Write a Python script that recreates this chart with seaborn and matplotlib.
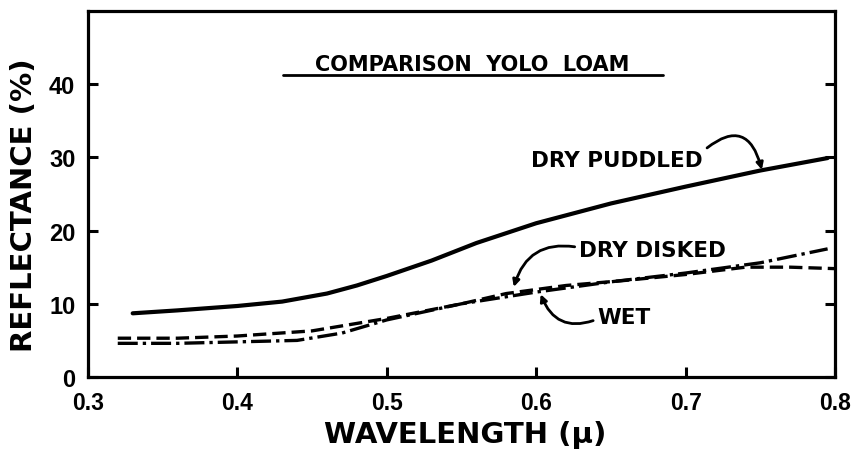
import matplotlib
matplotlib.use("Agg")
import matplotlib.pyplot as plt
import seaborn as sns
import pandas as pd

# ---- data ----
wl_puddled = [0.33, 0.36, 0.40, 0.43, 0.46, 0.48, 0.50, 0.53, 0.56, 0.60, 0.65, 0.70, 0.75, 0.795]
r_puddled = [8.7, 9.1, 9.7, 10.3, 11.4, 12.5, 13.8, 15.9, 18.3, 21.0, 23.7, 26.0, 28.2, 29.9]

wl_disked = [0.32, 0.36, 0.40, 0.45, 0.50, 0.55, 0.58, 0.62, 0.66, 0.70, 0.74, 0.77, 0.80]
r_disked = [5.3, 5.3, 5.6, 6.3, 8.0, 10.0, 11.4, 12.5, 13.2, 14.0, 15.0, 15.0, 14.8]

wl_wet = [0.32, 0.36, 0.40, 0.44, 0.47, 0.50, 0.55, 0.60, 0.65, 0.70, 0.75, 0.795]
r_wet = [4.6, 4.6, 4.8, 5.0, 6.0, 7.8, 10.0, 11.6, 13.0, 14.2, 15.6, 17.5]

x_ticks = [0.3, 0.4, 0.5, 0.6, 0.7, 0.8]
x_labels = ["0.3", "0.4", "0.5", "0.6", "0.7", "0.8"]
y_ticks = [0, 10, 20, 30, 40]
y_labels = ["0", "10", "20", "30", "40"]

title = "COMPARISON  YOLO  LOAM"
x_title = "WAVELENGTH (\u03bc)"
y_title = "REFLECTANCE (%)"

sns.set_theme(style="ticks")
plt.rcParams["font.family"] = ["DejaVu Sans"]
plt.rcParams["font.weight"] = "bold"
plt.rcParams["text.color"] = "black"
plt.rcParams["axes.labelcolor"] = "black"

fig = plt.figure(figsize=(8.53, 4.56), dpi=100)
ax = fig.add_axes([0.103, 0.171, 0.876, 0.803])

df_p = pd.DataFrame({"wl": wl_puddled, "r": r_puddled})
df_d = pd.DataFrame({"wl": wl_disked, "r": r_disked})
df_w = pd.DataFrame({"wl": wl_wet, "r": r_wet})

sns.lineplot(data=df_p, x="wl", y="r", ax=ax, color="black", lw=3.0, estimator=None, sort=False)
sns.lineplot(data=df_d, x="wl", y="r", ax=ax, color="black", lw=2.4, estimator=None, sort=False,
             linestyle=(0, (4, 1.8)))
sns.lineplot(data=df_w, x="wl", y="r", ax=ax, color="black", lw=2.4, estimator=None, sort=False,
             linestyle=(0, (6, 1.5, 1, 1.5)))

ax.set_xlim(0.3, 0.8)
ax.set_ylim(0, 50)
ax.set_xticks(x_ticks)
ax.set_xticklabels(x_labels)
ax.set_yticks(y_ticks)
ax.set_yticklabels(y_labels)

for s in ax.spines.values():
    s.set_linewidth(2.3)
    s.set_color("black")
ax.tick_params(axis="both", direction="in", length=7, width=2.2, colors="black")
ax.tick_params(axis="x", pad=10, labelsize=16.5)
ax.tick_params(axis="y", right=True, left=True, pad=9, labelsize=17)
for lab in ax.get_xticklabels() + ax.get_yticklabels():
    lab.set_fontweight("bold")
    lab.set_family(["Liberation Sans", "DejaVu Sans"])

ax.set_xlabel(x_title, fontsize=21, fontweight="bold")
ax.xaxis.set_label_coords(0.505, -0.155)
ax.xaxis.label.set_va("center")
ax.set_ylabel(y_title, fontsize=21, fontweight="bold")
ax.yaxis.set_label_coords(-0.085, 0.473)
ax.yaxis.label.set_va("center")

# title with underline
ax.text(0.515, 0.855, title, transform=ax.transAxes, ha="center", va="center",
        fontsize=15, fontweight="bold")
ax.plot([0.261, 0.770], [0.826, 0.826], transform=ax.transAxes, color="black", lw=2.0)

# annotations with curved arrows
arrow_kw = dict(arrowstyle="-|>", color="black", lw=2.0, mutation_scale=10,
                shrinkA=1, shrinkB=0)
ax.annotate("DRY PUDDLED", xy=(0.751, 28.3), xytext=(0.654, 29.7),
            ha="center", va="center", fontsize=15.5, fontweight="bold",
            arrowprops=dict(**arrow_kw, connectionstyle="arc3,rad=-0.8",
                            relpos=(1.0, 0.9)))
ax.annotate("DRY DISKED", xy=(0.585, 12.3), xytext=(0.678, 17.4),
            ha="center", va="center", fontsize=15.5, fontweight="bold",
            arrowprops=dict(**arrow_kw, connectionstyle="arc3,rad=0.45",
                            relpos=(0.0, 0.6)))
ax.annotate("WET", xy=(0.603, 11.3), xytext=(0.659, 8.2),
            ha="center", va="center", fontsize=15.5, fontweight="bold",
            arrowprops=dict(**arrow_kw, connectionstyle="arc3,rad=-0.5",
                            relpos=(0.0, 0.4)))

fig.savefig("out.png", dpi=100)
